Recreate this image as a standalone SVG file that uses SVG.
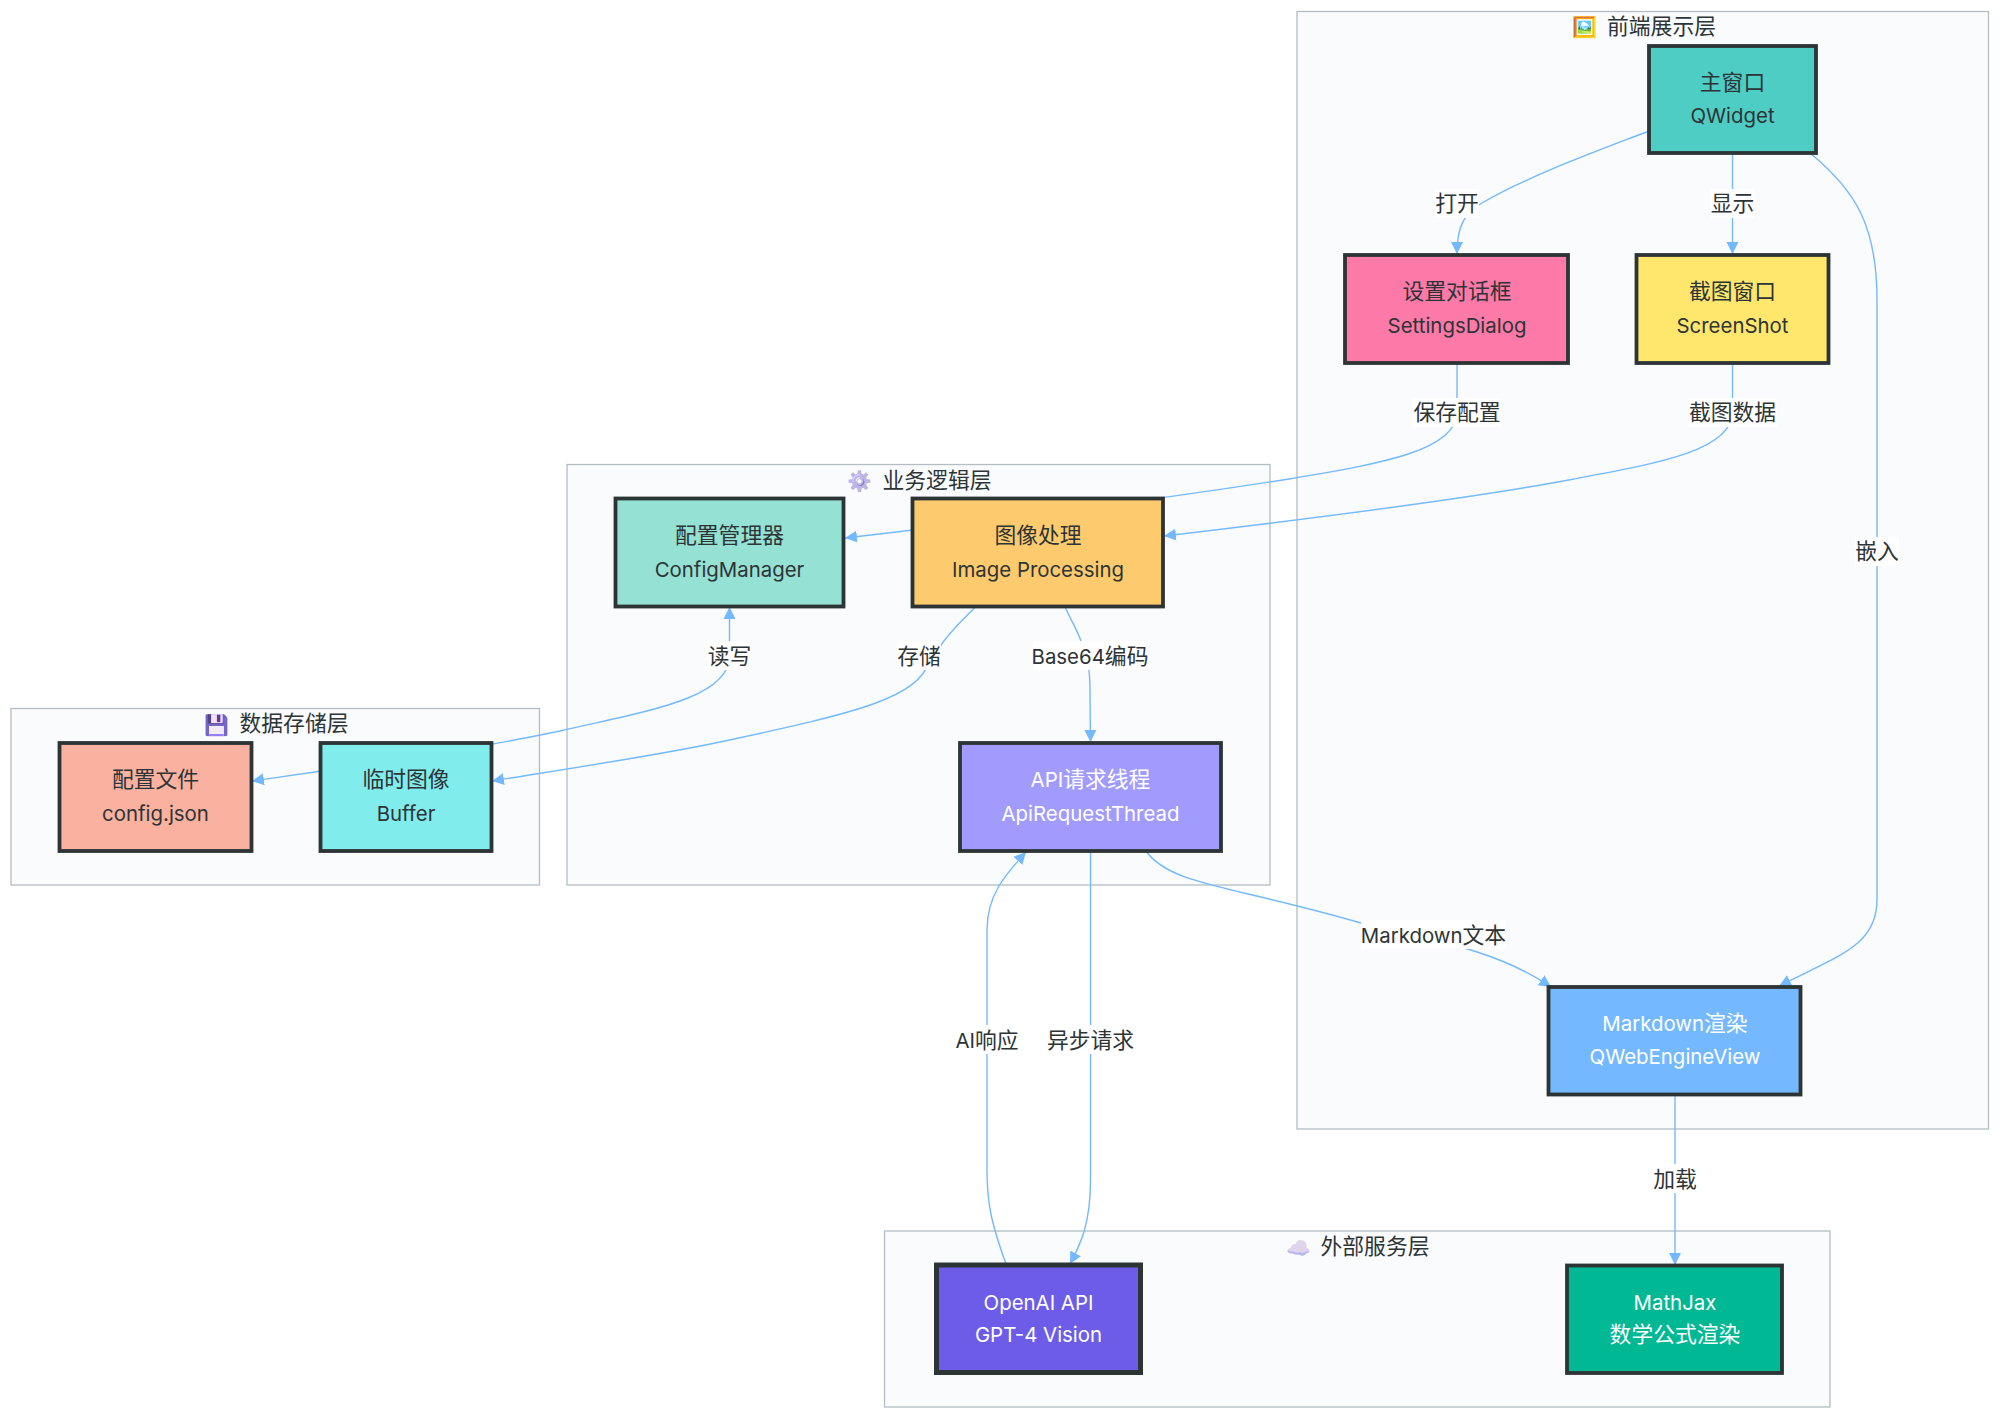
<svg xmlns="http://www.w3.org/2000/svg" width="2000" height="1418" viewBox="0 0 2000 1418">
<style>
text{font-family:"Noto Sans CJK SC",sans-serif;font-size:21.8px;fill:#2d3436;text-anchor:middle}
.l{font-family:Inter,"Noto Sans",sans-serif;font-size:20.4px}
.frame{fill:#f9fbfd;stroke:#b2bec3;stroke-width:1.3}
.n{stroke:#2d3436;stroke-width:3.8}
.w text{fill:#fff}
.e{fill:none;stroke:#74b9ff;stroke-width:1.4}
.lb{fill:#fff}
.em{font-family:"Noto Color Emoji","Noto Sans",sans-serif;font-size:20px}
.gear{filter:hue-rotate(60deg) saturate(.9) brightness(1.12)}
.disk{filter:sepia(1) hue-rotate(210deg) saturate(3) brightness(.95)}
.cloud{filter:hue-rotate(60deg) saturate(3) brightness(.93)}
.pic{filter:brightness(1.12)}
</style>
<defs>
<marker id="a" markerUnits="userSpaceOnUse" markerWidth="13" markerHeight="13" refX="12" refY="6.500" orient="auto-start-reverse"><path d="M0,0.500L12,6.500L0,12.500Z" fill="#74b9ff"/></marker>
</defs>
<rect width="2000" height="1418" fill="#fff"/>
<g id="frames">
<g id="frontend"><rect class="frame" x="1297" y="11.500" width="691.500" height="1117.500"/><text class="em pic" x="1584.500" y="34">🖼️</text><text x="1661.500" y="34">前端展示层</text></g>
<g id="logic"><rect class="frame" x="567" y="464.500" width="703" height="420.500"/><text class="em gear" x="860" y="488">⚙️</text><text x="937" y="487.500">业务逻辑层</text></g>
<g id="storage"><rect class="frame" x="11" y="708.500" width="528.500" height="176.500"/><text class="em disk" x="217" y="731.500">💾</text><text x="294" y="731">数据存储层</text></g>
<g id="external"><rect class="frame" x="884.500" y="1231" width="945.500" height="176"/><text class="em cloud" x="1298.500" y="1254.500">☁️</text><text x="1375" y="1254">外部服务层</text></g>
</g>
<g id="connectors">
<path class="e" marker-end="url(#a)" d="M1649,131C1600,150 1530,175 1482,203C1465,213 1457,225 1457,254"/>
<path class="e" marker-end="url(#a)" d="M1732.500,153L1732.500,254"/>
<path class="e" marker-end="url(#a)" d="M1810,153C1855,190 1877,225 1877,300L1877,900C1877,945 1840,955 1779,986"/>
<path class="e" marker-end="url(#a)" d="M1457,363L1457,412C1457,450 1385,463 1289,479C1160,499 1000,520 845,538"/>
<path class="e" marker-end="url(#a)" d="M1732.500,363L1732.500,412C1732.500,450 1660,463 1574,479C1480,497 1300,520 1164,536"/>
<path class="e" marker-end="url(#a)" d="M975.500,607C960,622 950,632 941,645L930,660C918,698 860,712 720,742C660,755 560,770 492,781"/>
<path class="e" marker-end="url(#a)" d="M1065,607C1072,622 1078,632 1081,641C1088,660 1090,670 1090,690L1090.500,742"/>
<path class="e" marker-start="url(#a)" marker-end="url(#a)" d="M729.500,607L729.500,656C729.500,700 640,712 560,731C460,752 350,767 252,781"/>
<path class="e" marker-end="url(#a)" d="M1090.500,851L1090.500,1180C1090.500,1225 1080,1245 1070,1264"/>
<path class="e" marker-end="url(#a)" d="M1006,1264C992,1225 987,1205 987,1170L987,930C987,895 1005,875 1026,852"/>
<path class="e" marker-end="url(#a)" d="M1146,851C1170,885 1230,885 1361,923C1410,937 1490,945 1551,987"/>
<path class="e" marker-end="url(#a)" d="M1675,1095L1675,1265"/>
</g>
<g id="labels">
<rect class="lb" x="1435" y="189" width="44" height="29"/><text x="1457" y="211">打开</text>
<rect class="lb" x="1710.500" y="189" width="44" height="29"/><text x="1732.500" y="211">显示</text>
<rect class="lb" x="1412" y="398" width="89" height="29"/><text x="1457" y="420">保存配置</text>
<rect class="lb" x="1688" y="398" width="89" height="29"/><text x="1732.500" y="420">截图数据</text>
<rect class="lb" x="1855" y="537" width="44" height="29"/><text x="1877" y="559">嵌入</text>
<rect class="lb" x="707" y="641" width="44" height="29"/><text x="729.500" y="664">读写</text>
<rect class="lb" x="897" y="641" width="44" height="29"/><text x="919" y="664">存储</text>
<rect class="lb" x="1034" y="641" width="112" height="29"/><text x="1090" y="664"><tspan class="l">Base64</tspan>编码</text>
<rect class="lb" x="1361" y="920" width="145" height="29"/><text x="1433.500" y="943"><tspan class="l">Markdown</tspan>文本</text>
<rect class="lb" x="955" y="1025" width="64" height="29"/><text x="987" y="1048"><tspan class="l">AI</tspan>响应</text>
<rect class="lb" x="1046" y="1025" width="89" height="29"/><text x="1090.500" y="1048">异步请求</text>
<rect class="lb" x="1653" y="1164" width="44" height="29"/><text x="1675" y="1187">加载</text>
</g>
<g id="main-window"><rect class="n" fill="#4ecdc4" x="1649" y="46" width="167" height="107"/><text x="1732.500" y="90">主窗口</text><text class="l" x="1732.500" y="122.500">QWidget</text></g>
<g id="settings"><rect class="n" fill="#fd79a8" x="1345" y="255" width="223" height="108"/><text x="1457" y="299">设置对话框</text><text class="l" x="1457" y="332.500">SettingsDialog</text></g>
<g id="screenshot"><rect class="n" fill="#ffe66d" x="1636.500" y="255" width="192" height="108"/><text x="1732.500" y="299">截图窗口</text><text class="l" x="1732.500" y="332.500">ScreenShot</text></g>
<g id="config-manager"><rect class="n" fill="#95e1d3" x="615.500" y="498.500" width="228" height="108"/><text x="729.500" y="543">配置管理器</text><text class="l" x="729.500" y="576.500">ConfigManager</text></g>
<g id="image-processing"><rect class="n" fill="#fdcb6e" x="912.500" y="498.500" width="250.500" height="108"/><text x="1038" y="543">图像处理</text><text class="l" x="1038" y="576.500">Image Processing</text></g>
<g id="api-thread" class="w"><rect class="n" fill="#a29bfe" x="960" y="743" width="261" height="108"/><text x="1090.500" y="787"><tspan class="l">API</tspan>请求线程</text><text class="l" x="1090.500" y="820.500">ApiRequestThread</text></g>
<g id="config-file"><rect class="n" fill="#fab1a0" x="59.500" y="743" width="192" height="108"/><text x="155.500" y="787">配置文件</text><text class="l" x="155.500" y="820.500">config.json</text></g>
<g id="buffer"><rect class="n" fill="#81ecec" x="320.500" y="743" width="171" height="108"/><text x="406" y="787">临时图像</text><text class="l" x="406" y="820.500">Buffer</text></g>
<g id="markdown" class="w"><rect class="n" fill="#74b9ff" x="1548.500" y="987" width="252" height="107.500"/><text x="1675" y="1031"><tspan class="l">Markdown</tspan>渲染</text><text class="l" x="1675" y="1063.500">QWebEngineView</text></g>
<g id="openai" class="w"><rect class="n" style="stroke-width:5" fill="#6c5ce7" x="936.500" y="1265" width="204" height="107.500"/><text class="l" x="1038.500" y="1310">OpenAI API</text><text class="l" x="1038.500" y="1342">GPT-4 Vision</text></g>
<g id="mathjax" class="w"><rect class="n" fill="#00b894" x="1567" y="1265.500" width="215" height="107.500"/><text class="l" x="1675" y="1310">MathJax</text><text x="1675" y="1342">数学公式渲染</text></g>
</svg>
